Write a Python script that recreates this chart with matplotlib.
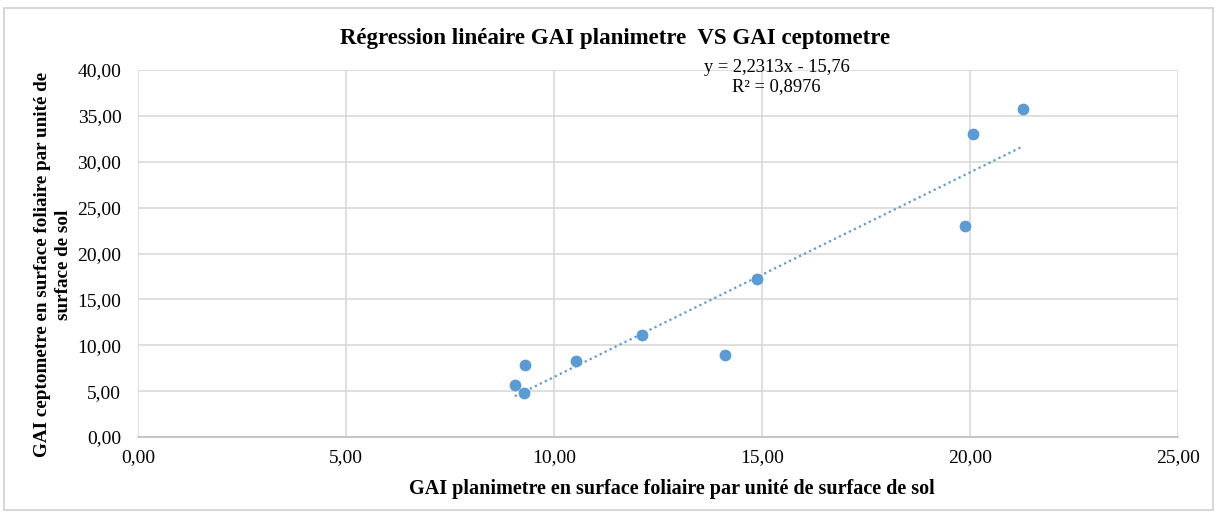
import numpy as np
import matplotlib
matplotlib.use("Agg")
import matplotlib.pyplot as plt
from matplotlib.patches import Rectangle

x_planimetre = [21.27, 20.08, 19.88, 14.89, 12.11, 14.10, 10.52, 9.31, 9.06, 9.29]
y_ceptometre = [35.80, 33.00, 23.05, 17.20, 11.09, 8.98, 8.25, 7.89, 5.71, 4.80]
x_ticks = [0, 5, 10, 15, 20, 25]
y_ticks = [0, 5, 10, 15, 20, 25, 30, 35, 40]
title = "Régression linéaire GAI planimetre  VS GAI ceptometre"
xlabel = "GAI planimetre en surface foliaire par unité de surface de sol"
ylabel = "GAI ceptometre en surface foliaire par unité de\nsurface de sol"
eq_text = "y = 2,2313x - 15,76\nR² = 0,8976"

plt.rcParams['font.family'] = ['Liberation Serif', 'DejaVu Serif']

fig = plt.figure(figsize=(12.17, 5.15), dpi=100)
fig.patches.append(Rectangle((0.003, 0.01), 0.994, 0.975, transform=fig.transFigure,
                             fill=False, edgecolor='#D0D0D0', linewidth=1.2))
ax = fig.add_axes([0.1134, 0.1515, 0.8546, 0.7125])

xs = np.array(x_planimetre)
ys = np.array(y_ceptometre)
ax.scatter(xs, ys, marker='s', s=40, color='#ED7D31', zorder=3, linewidths=0)
ax.scatter(xs, ys, marker='o', s=72, color='#5B9BD5', zorder=4, linewidths=0)

coef = np.polyfit(xs, ys, 1)
xl = np.array([xs.min(), xs.max()])
ax.plot(xl, np.polyval(coef, xl), linestyle=(0, (1, 1.5)), color='#5B9BD5', linewidth=1.6, zorder=2)

ax.set_xlim(0, 25)
ax.set_ylim(0, 40)
ax.set_xticks(x_ticks)
ax.set_yticks(y_ticks)
fmt = lambda v: f"{v:.2f}".replace('.', ',')
ax.set_xticklabels([fmt(v) for v in x_ticks], fontsize=14)
ax.set_yticklabels([fmt(v) for v in y_ticks], fontsize=14)
ax.tick_params(axis='y', length=0, pad=12)
ax.tick_params(axis='x', length=0, pad=9)
ax.grid(True, color='#D9D9D9', linewidth=1.2)
ax.set_axisbelow(True)
for s in ['top', 'right', 'left']:
    ax.spines[s].set_visible(False)
ax.spines['bottom'].set_color('#BFBFBF')
ax.spines['bottom'].set_linewidth(1.2)

fig.text(0.505, 0.925, title, ha='center', va='center', fontsize=16.5, fontweight='bold')
ax.set_xlabel(xlabel, fontsize=14.5, fontweight='bold', labelpad=8)
ax.xaxis.set_label_coords(0.513, -0.115)
ax.set_ylabel(ylabel, fontsize=13.8, fontweight='bold', labelpad=8, linespacing=1.35)
ax.yaxis.set_label_coords(-0.063, 0.469)
fig.text(0.638, 0.85, eq_text, ha='center', va='center', fontsize=13.3, linespacing=1.2)

fig.savefig("out.png", dpi=100)
